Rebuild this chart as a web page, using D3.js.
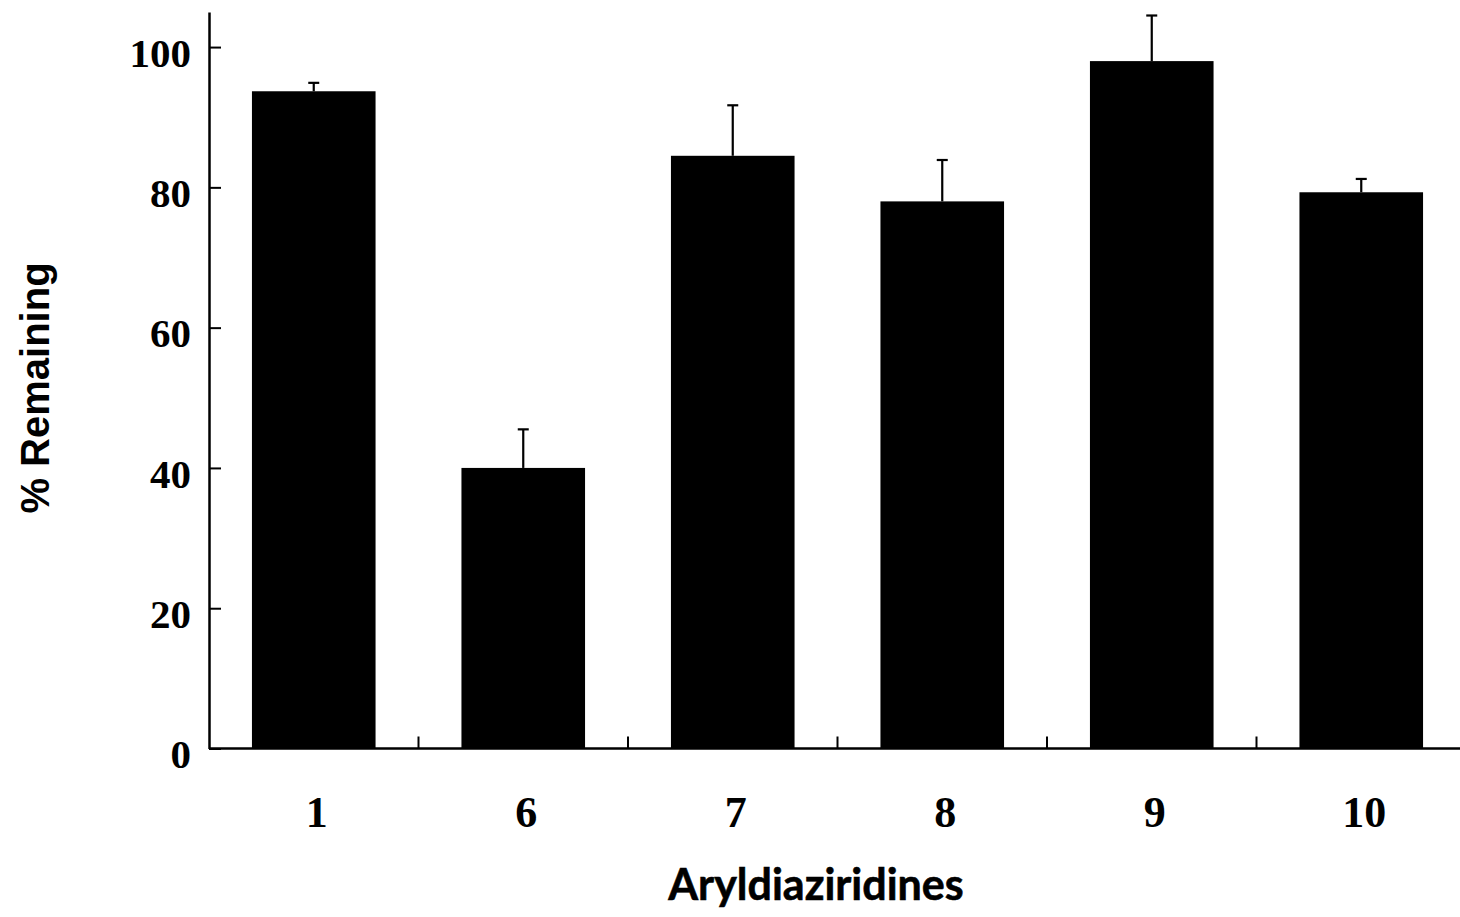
<!DOCTYPE html>
<html>
<head>
<meta charset="utf-8">
<script src="https://cdn.jsdelivr.net/npm/d3@7"></script>
<style>
  body { margin: 0; background: #fff; }
  svg { display: block; }
</style>
</head>
<body>
<svg id="chart"></svg>
<script>
// Data
const categories = ["1", "6", "7", "8", "9", "10"];
const means = [93.7, 40.0, 84.5, 78.0, 98.0, 79.3];
const errors = [1.2, 5.5, 7.2, 5.9, 6.5, 1.9];
const yTicks = [0, 20, 40, 60, 80, 100];

(() => {
  const width = 1460, height = 917;
  const svg = d3.select("#chart").attr("width", width).attr("height", height);

  const x = d3.scaleBand()
    .domain(categories)
    .range([209, 1466])
    .paddingInner(0.41)
    .paddingOuter(0.205);

  const y = d3.scaleLinear()
    .domain([0, 105])
    .range([748.5, 12]);

  const data = categories.map((c, i) => ({ cat: c, v: means[i], e: errors[i] }));

  // Bars
  svg.selectAll(".bar")
    .data(data)
    .enter()
    .append("rect")
    .attr("class", "bar")
    .attr("x", d => x(d.cat))
    .attr("y", d => y(d.v))
    .attr("width", x.bandwidth())
    .attr("height", d => y(0) - y(d.v))
    .attr("fill", "#000");

  // Error bars (upper only)
  const eb = svg.selectAll(".err").data(data).enter().append("g").attr("class", "err");
  eb.append("line")
    .attr("x1", d => x(d.cat) + x.bandwidth() / 2)
    .attr("x2", d => x(d.cat) + x.bandwidth() / 2)
    .attr("y1", d => y(d.v))
    .attr("y2", d => y(d.v + d.e))
    .attr("stroke", "#000")
    .attr("stroke-width", 2.2);
  eb.append("line")
    .attr("x1", d => x(d.cat) + x.bandwidth() / 2 - 5.5)
    .attr("x2", d => x(d.cat) + x.bandwidth() / 2 + 5.5)
    .attr("y1", d => y(d.v + d.e))
    .attr("y2", d => y(d.v + d.e))
    .attr("stroke", "#000")
    .attr("stroke-width", 2.2);

  // Y axis
  const yAxis = svg.append("g")
    .attr("transform", `translate(${x.range()[0]},0)`)
    .call(d3.axisLeft(y).tickValues(yTicks).tickSizeInner(-12).tickSizeOuter(0).tickPadding(0));
  yAxis.select(".domain").attr("stroke-width", 2.5);
  yAxis.selectAll(".tick line").attr("stroke-width", 2);
  yAxis.selectAll(".tick text").remove();
  yAxis.selectAll(".tick")
    .append("text")
    .attr("x", -18)
    .attr("dy", "0.47em")
    .attr("text-anchor", "end")
    .attr("fill", "#000")
    .style("font-family", "'Liberation Serif', 'Times New Roman', serif")
    .style("font-weight", "bold")
    .style("font-size", "41px")
    .text(d => d);

  // X axis line
  svg.append("line")
    .attr("x1", x.range()[0])
    .attr("x2", width)
    .attr("y1", y(0))
    .attr("y2", y(0))
    .attr("stroke", "#000")
    .attr("stroke-width", 2.5);

  // Boundary ticks between categories
  const boundaries = categories.slice(1).map(c => x(c) - x.step() * x.paddingInner() / 2);
  svg.selectAll(".xtick")
    .data(boundaries)
    .enter()
    .append("line")
    .attr("x1", d => d)
    .attr("x2", d => d)
    .attr("y1", y(0))
    .attr("y2", y(0) - 12)
    .attr("stroke", "#000")
    .attr("stroke-width", 2);

  // Category labels
  svg.selectAll(".xlabel")
    .data(categories)
    .enter()
    .append("text")
    .attr("x", d => x(d) + x.bandwidth() / 2 + 3)
    .attr("y", 827)
    .attr("text-anchor", "middle")
    .style("font-family", "'Liberation Serif', 'Times New Roman', serif")
    .style("font-weight", "bold")
    .style("font-size", "44px")
    .text(d => d);

  // Axis titles
  svg.append("text")
    .attr("x", 816)
    .attr("y", 900)
    .attr("text-anchor", "middle")
    .attr("stroke", "#000")
    .attr("stroke-width", 0.6)
    .style("font-family", "Lato, 'Open Sans', sans-serif")
    .style("font-weight", "bold")
    .style("font-size", "43px")
    .text("Aryldiaziridines");

  svg.append("text")
    .attr("transform", "translate(49,388) rotate(-90)")
    .attr("text-anchor", "middle")
    .style("font-family", "'Liberation Sans', Arial, sans-serif")
    .style("font-weight", "bold")
    .style("font-size", "40px")
    .text("% Remaining");
})();
</script>
</body>
</html>
